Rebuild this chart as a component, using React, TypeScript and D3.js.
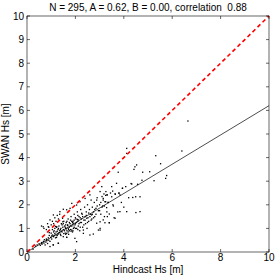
import React from 'react'
import * as d3 from 'd3'

// scatter points: hindcast Hs vs SWAN Hs (m)
const hindcastHs = [
  0.25, 0.35, 0.42, 0.5, 0.55, 0.6, 0.62, 0.68, 0.7, 0.72, 0.75, 0.78, 0.8, 0.82, 0.85, 0.88, 0.9, 0.92, 0.95, 0.95,
  0.98, 1.0, 1.02, 1.05, 1.08, 1.1, 1.12, 1.15, 1.18, 1.2, 1.22, 1.25, 1.28, 1.3, 1.3, 1.32, 1.35, 1.38, 1.4, 1.42,
  1.45, 1.48, 1.5, 1.5, 1.52, 1.55, 1.58, 1.6, 1.62, 1.64, 1.65, 1.68, 1.7, 1.72, 1.75, 1.78, 1.8, 1.82, 1.85, 1.88,
  1.9, 1.92, 1.95, 1.98, 2.0, 2.02, 2.05, 2.05, 2.08, 2.1, 2.12, 2.15, 2.18, 2.2, 2.22, 2.25, 2.28, 2.3, 2.33, 2.35,
  2.38, 2.4, 2.42, 2.45, 2.48, 2.5, 2.52, 2.55, 2.58, 2.6, 2.62, 2.65, 2.68, 2.7, 2.74, 2.75, 2.78, 2.8, 2.85, 2.88,
  2.9, 2.95, 2.95, 3.0, 3.02, 3.05, 3.09, 3.1, 3.15, 3.2, 3.22, 3.25, 3.3, 3.35, 3.4, 3.45, 3.5, 3.55, 3.6, 3.65,
  3.7, 3.75, 3.8, 3.84, 3.9, 3.95, 4.0, 4.08, 4.12, 4.12, 4.12, 4.2, 4.3, 4.37, 4.42, 4.46, 4.5, 4.53, 4.57, 4.67,
  4.75, 4.78, 5.07, 5.25, 5.32, 5.52, 5.73, 5.77, 6.4, 6.65,
  0.6, 0.7, 0.8, 0.85, 0.9, 1.0, 1.05, 1.1, 1.15, 1.2, 1.25, 1.3, 1.35, 1.05, 1.1, 1.15, 1.2, 1.25, 1.3, 1.35,
  1.4, 1.45, 1.5, 1.55, 1.6, 1.6, 1.65, 1.7, 1.7, 1.75, 1.75, 1.8, 1.8, 1.85, 1.9, 1.9, 1.95, 1.95, 2.0, 2.0,
  2.05, 2.1, 2.1, 2.15, 2.2, 2.2, 2.25, 2.3, 2.35, 2.4, 2.45, 2.5, 2.55, 2.6, 2.65, 2.7, 2.75, 2.8, 2.85, 2.9,
  3.0, 3.05, 3.1, 3.2, 3.25, 3.3, 3.36, 3.4, 3.5, 3.57, 3.64, 3.8, 3.84, 3.94, 4.33, 4.49, 4.67, 1.64, 1.78, 1.85,
  2.05, 2.19, 2.4, 2.6, 2.88, 1.5, 1.36, 1.09, 1.47, 0.95, 0.67, 0.88, 2.47, 2.67, 2.26, 2.12, 1.91, 3.02, 2.33, 1.85,
  1.64, 1.23, 0.81, 0.61, 1.29, 1.09, 1.64, 3.02, 3.15, 3.4, 3.02, 3.32, 3.13, 3.29, 3.15, 3.22, 3.18, 3.26, 3.54, 3.64,
  3.77, 3.32, 1.12, 1.38, 1.58, 1.72, 1.88, 1.42, 1.28, 1.02, 0.92, 1.18, 1.52, 1.68, 1.82, 1.98, 2.08, 1.48, 1.22, 1.62
]

const swanHs = [
  0.12, 0.25, 0.3, 0.35, 0.28, 0.4, 0.33, 0.45, 0.38, 0.52, 0.3, 0.42, 0.55, 0.48, 0.36, 0.6, 0.5, 0.7, 0.23, 0.45,
  0.62, 0.8, 0.55, 0.72, 0.3, 0.65, 0.9, 0.78, 0.6, 0.85, 1.05, 0.7, 0.95, 0.37, 0.8, 1.1, 0.9, 0.75, 1.0, 1.2,
  0.85, 1.05, 0.65, 0.95, 1.3, 1.1, 0.8, 1.0, 1.25, 0.62, 0.9, 1.15, 1.4, 0.75, 1.05, 1.2, 0.95, 1.5, 1.1, 0.85,
  1.3, 1.0, 1.6, 0.58, 1.2, 1.4, 0.44, 1.0, 1.7, 1.3, 1.1, 1.5, 0.9, 1.25, 1.8, 1.4, 1.6, 1.05, 0.79, 1.35,
  1.9, 1.5, 1.2, 1.7, 1.0, 2.0, 1.45, 1.3, 1.8, 0.72, 1.6, 2.2, 1.4, 1.9, 0.76, 1.7, 2.1, 1.5, 1.85, 1.22,
  2.3, 0.93, 1.75, 2.0, 2.56, 1.6, 2.77, 1.9, 2.2, 1.5, 1.24, 2.4, 1.7, 2.1, 1.24, 2.5, 2.77, 2.0, 1.45, 2.45,
  2.91, 1.7, 2.5, 2.42, 2.1, 2.7, 1.9, 2.77, 4.39, 4.18, 1.71, 2.3, 2.9, 2.31, 3.5, 3.61, 1.67, 3.69, 2.87, 2.34,
  3.04, 3.38, 3.4, 3.02, 4.08, 3.74, 3.12, 3.24, 4.28, 5.55,
  1.1, 1.0, 0.95, 1.2, 1.05, 1.15, 1.3, 1.2, 1.45, 1.3, 1.55, 1.4, 1.6, 0.95, 0.85, 1.0, 0.72, 0.88, 1.0, 0.82,
  0.7, 1.15, 1.2, 0.9, 1.15, 0.75, 1.3, 1.0, 0.85, 1.25, 0.9, 1.35, 1.1, 1.3, 1.15, 0.9, 1.35, 1.05, 1.45, 1.0,
  1.25, 1.55, 0.95, 1.2, 1.45, 1.05, 1.25, 1.5, 1.15, 1.35, 1.55, 1.25, 1.65, 1.5, 1.35, 1.6, 1.45, 1.8, 1.6, 1.95,
  1.75, 2.1, 2.35, 1.95, 2.13, 2.42, 2.1, 1.61, 2.34, 1.95, 1.43, 2.49, 1.71, 2.7, 2.88, 2.34, 1.71, 1.79, 1.85, 2.06,
  1.99, 2.13, 2.27, 2.42, 2.2, 1.81, 1.71, 1.57, 1.43, 1.36, 1.07, 1.07, 1.43, 1.57, 1.64, 1.36, 1.22, 0.93, 0.93, 0.93,
  0.79, 1.07, 0.51, 0.37, 0.37, 0.3, 0.62, 1.28, 1.36, 1.24, 1.0, 1.5, 1.95, 1.88, 2.27, 2.13, 2.46, 2.56, 2.58, 2.46,
  3.38, 2.42, 0.7, 0.95, 1.05, 0.95, 1.25, 0.88, 0.75, 0.68, 0.82, 1.08, 0.78, 1.12, 0.88, 1.15, 1.38, 1.28, 0.62, 0.98
]

const xTicks = [0, 2, 4, 6, 8, 10]
const yTicks = [0, 1, 2, 3, 4, 5, 6, 7, 8, 9, 10]
const slopeA = 0.62
const titleText = 'N = 295, A = 0.62, B = 0.00, correlation  0.88'
const xLabel = 'Hindcast Hs [m]'
const yLabel = 'SWAN Hs [m]'

const W = 275
const H = 276
const left = 27
const right = 269
const top = 16
const bottom = 252

export default function App() {
  const x = d3.scaleLinear().domain([0, 10]).range([left, right])
  const y = d3.scaleLinear().domain([0, 10]).range([bottom, top])
  const line = d3
    .line<number[]>()
    .x((d) => x(d[0]))
    .y((d) => y(d[1]))
  const tk = 3
  const font = 'Liberation Sans, Arial, sans-serif'

  return (
    <svg
      width={W}
      height={H}
      style={{ position: 'absolute', left: 0, top: 0, background: '#fff' }}
      fontFamily={font}
      fontSize={10}
    >
      <rect x={0} y={0} width={W} height={H} fill="#fff" />
      {/* ticks on all four sides, pointing in */}
      <g stroke="#000" strokeWidth={0.6}>
        {xTicks.map((t) => (
          <g key={'xt' + t}>
            <line x1={x(t)} x2={x(t)} y1={bottom} y2={bottom - tk} />
            <line x1={x(t)} x2={x(t)} y1={top} y2={top + tk} />
          </g>
        ))}
        {yTicks.map((t) => (
          <g key={'yt' + t}>
            <line x1={left} x2={left + tk} y1={y(t)} y2={y(t)} />
            <line x1={right} x2={right - tk} y1={y(t)} y2={y(t)} />
          </g>
        ))}
      </g>
      {/* points */}
      <g fill="#000">
        {hindcastHs.map((d, i) => (
          <rect key={i} x={x(d) - 0.65} y={y(swanHs[i]) - 0.65} width={1.3} height={1.3} />
        ))}
      </g>
      {/* fit line y = A x */}
      <path d={line([[0, 0], [10, 10 * slopeA]]) || ''} stroke="#000" strokeWidth={0.7} fill="none" />
      {/* 1:1 line */}
      <path
        d={line([[0, 0], [10, 10]]) || ''}
        stroke="#f00"
        strokeWidth={1.6}
        strokeDasharray="4,3"
        fill="none"
      />
      <rect x={left} y={top} width={right - left} height={bottom - top} fill="none" stroke="#000" strokeWidth={0.6} />
      {xTicks.map((t) => (
        <text key={'xl' + t} x={x(t)} y={bottom + 8.5} textAnchor="middle">
          {t}
        </text>
      ))}
      {yTicks.map((t) => (
        <text key={'yl' + t} x={left - 3} y={y(t) + 3.5} textAnchor="end">
          {t}
        </text>
      ))}
      <text x={(left + right) / 2} y={11} textAnchor="middle" style={{ whiteSpace: 'pre' }}>
        {titleText}
      </text>
      <text x={(left + right) / 2} y={273} textAnchor="middle">
        {xLabel}
      </text>
      <text transform={`translate(9,${(top + bottom) / 2}) rotate(-90)`} textAnchor="middle">
        {yLabel}
      </text>
    </svg>
  )
}
